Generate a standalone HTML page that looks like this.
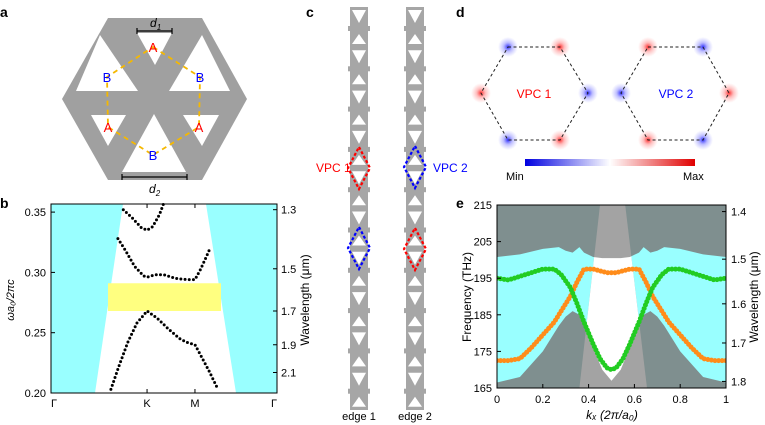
<!DOCTYPE html>
<html><head><meta charset="utf-8"><style>
html,body{margin:0;padding:0;background:#fff;}
svg{display:block;font-family:"Liberation Sans",sans-serif;}
</style></head><body>
<svg width="765" height="425" viewBox="0 0 765 425" xmlns="http://www.w3.org/2000/svg">
<defs>
<radialGradient id="gr"><stop offset="0" stop-color="#ff2020" stop-opacity="0.95"/><stop offset="0.45" stop-color="#ff6060" stop-opacity="0.4"/><stop offset="1" stop-color="#ff8080" stop-opacity="0"/></radialGradient>
<radialGradient id="gb"><stop offset="0" stop-color="#2020ff" stop-opacity="0.95"/><stop offset="0.45" stop-color="#6060ff" stop-opacity="0.4"/><stop offset="1" stop-color="#8080ff" stop-opacity="0"/></radialGradient>
<linearGradient id="cbar"><stop offset="0" stop-color="#0000e0"/><stop offset="0.5" stop-color="#ffffff"/><stop offset="1" stop-color="#e00000"/></linearGradient>
<clipPath id="wedgeClip"><polygon id="wedgePoly" points="0,0"/></clipPath>
<clipPath id="eClip"><rect x="497" y="205" width="229" height="183"/></clipPath>
</defs>

<text x="0" y="17" font-size="14" font-weight="bold">a</text>
<text x="0" y="208" font-size="14" font-weight="bold">b</text>
<text x="306" y="17" font-size="14" font-weight="bold">c</text>
<text x="456" y="17" font-size="14" font-weight="bold">d</text>
<text x="456" y="208" font-size="14" font-weight="bold">e</text>

<g>
<polygon points="108,18 202,18 247,99 202,180 108,180 62,99" fill="#a0a0a0"/>
<polygon points="137,33 172,33 155,65" fill="#fff"/>
<polygon points="76,91 138,91 100,35" fill="#fff"/>
<polygon points="169,91 230,91 202,35" fill="#fff"/>
<polygon points="91,115 126,115 108,146" fill="#fff"/>
<polygon points="183,115 219,115 202,146" fill="#fff"/>
<polygon points="122,172 186,172 154,114" fill="#fff"/>
<polygon points="153,47 200,77 199,127 153,155 108,127 107,77" fill="none" stroke="#f5b800" stroke-width="1.8" stroke-dasharray="5,4"/>
<g font-size="13" text-anchor="middle">
<text x="153" y="52" fill="#ff0000">A</text>
<text x="200" y="82" fill="#0000ff">B</text>
<text x="199" y="132" fill="#ff0000">A</text>
<text x="153" y="160" fill="#0000ff">B</text>
<text x="108" y="132" fill="#ff0000">A</text>
<text x="107" y="82" fill="#0000ff">B</text>
</g>
<g stroke="#000" stroke-width="1.2">
<line x1="137" y1="31" x2="172" y2="31"/><line x1="137" y1="28" x2="137" y2="34"/><line x1="172" y1="28" x2="172" y2="34"/>
</g>
<text x="150" y="27" font-size="12" font-style="italic">d<tspan font-size="8" dy="3">1</tspan></text>
<g stroke="#000" stroke-width="1.2">
<line x1="122" y1="177" x2="187" y2="177"/><line x1="122" y1="174" x2="122" y2="180"/><line x1="187" y1="174" x2="187" y2="180"/>
</g>
<text x="149" y="193" font-size="12" font-style="italic">d<tspan font-size="8" dy="3">2</tspan></text>
</g>

<g id="panelB"></g>
<g id="panelC"></g>
<g id="panelD">
<rect x="525" y="159" width="170" height="7" fill="url(#cbar)"/>
<text x="506" y="180" font-size="11">Min</text>
<text x="683" y="180" font-size="11">Max</text>
<text x="534" y="98" font-size="12" fill="#ff0000" text-anchor="middle">VPC 1</text>
<text x="676" y="98" font-size="12" fill="#0000ff" text-anchor="middle">VPC 2</text>
</g>
<g id="panelE"></g>

<script>
var NS="http://www.w3.org/2000/svg";
function mk(tag,attrs,parent){var e=document.createElementNS(NS,tag);for(var k in attrs)e.setAttribute(k,attrs[k]);parent.appendChild(e);return e;}

var bTicksY=[0.20,0.25,0.30,0.35];
var bTicksYLabels=["0.20","0.25","0.30","0.35"];
var bWaveTicks=[1.3,1.5,1.7,1.9,2.1];
var bWaveY=[0.352,0.303,0.268,0.240,0.217];
var bXTicks=[0,0.425,0.637,1];
var bXLabels=["Γ","K","M","Γ"];
var band1K=[0.265,0.30,0.34,0.38,0.425,0.47,0.52,0.57,0.60,0.637,0.66,0.70,0.739];
var band1F=[0.203,0.222,0.242,0.258,0.268,0.262,0.253,0.245,0.242,0.240,0.232,0.218,0.203];
var band2K=[0.296,0.33,0.37,0.41,0.425,0.46,0.50,0.55,0.60,0.637,0.66,0.685,0.704];
var band2F=[0.328,0.318,0.305,0.297,0.296,0.298,0.298,0.295,0.294,0.294,0.302,0.312,0.320];
var band3K=[0.32,0.36,0.40,0.425,0.45,0.48,0.50];
var band3F=[0.352,0.345,0.337,0.335,0.338,0.348,0.358];
var bGapLow=[0.268], bGapHigh=[0.291];

var bx=function(k){return 51+k*226;};
var by=function(f){return 393-(f-0.20)/0.05*60.3;};
(function(){
 var g=document.getElementById('panelB');
 var yTop=204,yBot=393;
 var c1=mk('polygon',{points:"51,"+yTop+" 123,"+yTop+" 95,"+yBot+" 51,"+yBot,fill:"#99ffff"},g);
 
 
 var c2=mk('polygon',{points:"206,"+yTop+" 277,"+yTop+" 277,"+yBot+" 236,"+yBot,fill:"#99ffff"},g);
 
 
 var gap=mk('rect',{x:108,y:by(bGapHigh[0]),width:113,height:by(bGapLow[0])-by(bGapHigh[0]),fill:"#ffff80"},g);
 
 
 var bands=[[band1K,band1F],[band2K,band2F],[band3K,band3F]];
 bands.forEach(function(b,i){
  var d=b[0].map(function(k,j){return (j?"L":"M")+bx(k).toFixed(1)+","+by(b[1][j]).toFixed(1);}).join(" ");
  var p=mk('path',{d:d,fill:"none",stroke:"#000","stroke-width":3,"stroke-linecap":"round","stroke-dasharray":"0 4.2"},g);
  
  
 });
 var fr=mk('rect',{x:51,y:yTop,width:226,height:yBot-yTop,fill:"none",stroke:"#000","stroke-width":1},g);
 
 
 bTicksY.forEach(function(v,i){
  mk('line',{x1:51,x2:55,y1:by(v),y2:by(v),stroke:"#000"},g);
  var t=mk('text',{x:46,y:by(v)+4,"font-size":11,"text-anchor":"end"},g);t.textContent=bTicksYLabels[i];
  
  
 });
 bWaveTicks.forEach(function(v,i){
  var y=by(bWaveY[i]);
  mk('line',{x1:273,x2:277,y1:y,y2:y,stroke:"#000"},g);
  var t=mk('text',{x:281,y:y+4,"font-size":11},g);t.textContent=v.toFixed(1);
  
  
 });
 bXTicks.forEach(function(k,i){
  mk('line',{x1:bx(k),x2:bx(k),y1:yBot,y2:yBot-4,stroke:"#000"},g);
  mk('line',{x1:bx(k),x2:bx(k),y1:yTop,y2:yTop+4,stroke:"#000"},g);
  var t=mk('text',{x:bx(k)+(i==0?3:(i==3?-3:0)),y:yBot+14,"font-size":11,"text-anchor":"middle"},g);t.textContent=bXLabels[i];
  
  
 });
 var yl=mk('text',{x:14,y:300,"font-size":11,"font-style":"italic","text-anchor":"middle",transform:"rotate(-90 14 300)"},g);
 yl.textContent="ωa₀/2πc";
 
 
 var yr=mk('text',{x:309,y:300,"font-size":12,"text-anchor":"middle",transform:"rotate(-90 309 300)"},g);
 yr.textContent="Wavelength (μm)";
 
 
})();

(function(){
 var g=document.getElementById('panelC');
 [359,415].forEach(function(cx,s){
  var sg=mk('g',{},g);
  
  
  mk('rect',{x:cx-9,y:7,width:18,height:403,fill:"#a6a6a6"},sg);
  for(var i=0;i<10;i++){
   var y0=7+i*40.3;
   mk('rect',{x:cx-11,y:y0+19,width:22,height:5,fill:"#a6a6a6"},sg);
   mk('polygon',{points:(cx-7)+","+(y0+3)+" "+(cx+7)+","+(y0+3)+" "+cx+","+(y0+16),fill:"#fff"},sg);
   mk('polygon',{points:(cx-7)+","+(y0+37)+" "+(cx+7)+","+(y0+37)+" "+cx+","+(y0+27),fill:"#fff"},sg);
  }
 });
 var dia=[[359,168,"#ff0000"],[359,248,"#0000ff"],[415,167,"#0000ff"],[415,249,"#ff0000"]];
 dia.forEach(function(d,i){
  var p=mk('polygon',{points:d[0]+","+(d[1]-21)+" "+(d[0]+11)+","+d[1]+" "+d[0]+","+(d[1]+21)+" "+(d[0]-11)+","+d[1],fill:"none",stroke:d[2],"stroke-width":2.2,"stroke-dasharray":"3,2"},g);
  
  
 });
 var t1=mk('text',{x:316,y:172,"font-size":12,fill:"#ff0000"},g);t1.textContent="VPC 1";
 
 
 var t2=mk('text',{x:433,y:172,"font-size":12,fill:"#0000ff"},g);t2.textContent="VPC 2";
 
 
 var e1=mk('text',{x:359,y:420,"font-size":11,"text-anchor":"middle"},g);e1.textContent="edge 1";
 
 
 var e2=mk('text',{x:415,y:420,"font-size":11,"text-anchor":"middle"},g);e2.textContent="edge 2";
 
 
})();

(function(){
 var g=document.getElementById('panelD');
 var hexes=[{pts:[[508,47],[560,47],[588,93],[560,140],[508,140],[481,93]],col:["b","r","b","r","b","r"]},
            {pts:[[648,47],[703,47],[729,93],[703,140],[648,140],[621,93]],col:["r","b","r","b","r","b"]}];
 hexes.forEach(function(h,hi){
  h.pts.forEach(function(p,i){
   var c=mk('circle',{cx:p[0],cy:p[1],r:10,fill:h.col[i]=="r"?"url(#gr)":"url(#gb)"},g);
   
   
  });
  var pl=mk('polygon',{points:h.pts.map(function(p){return p.join(",");}).join(" "),fill:"none",stroke:"#222","stroke-width":1,"stroke-dasharray":"3,2.5"},g);
  
  
 });
})();

var eK=[0,0.05,0.1,0.15,0.2,0.25,0.28,0.32,0.35,0.38,0.42,0.45,0.48,0.5,0.52,0.55,0.58,0.62,0.65,0.68,0.72,0.75,0.8,0.85,0.9,0.95,1];
var greenF=[195,194.5,195.5,196.5,197.5,197.5,196,192.5,188,183,177,173,170.5,170,170.5,173,177,183,188,192.5,196,197.5,197.5,196.5,195.5,194.5,195];
var orangeF=[172.5,172.5,173,176,179.5,183,186,190,194,197.5,197.5,197,196.5,196.5,196.5,197,197.5,197.5,194,190,186,183,179.5,176,173,172.5,172.5];
var bandK=[0,0.1,0.2,0.27,0.3,0.33,0.36,0.38,0.42,0.46,0.5,0.54,0.58,0.62,0.64,0.67,0.7,0.73,0.8,0.9,1];
var bandUpper=[200.8,201.5,203,203.5,202.5,202,203.5,202,200.8,200.5,200.5,200.5,200.8,202,203.5,202,202.5,203.5,203,201.5,200.8];
var bandLower=[166.5,168,175,182,184.5,186,185,183,176,170,167,170,176,183,185,186,184.5,182,175,168,166.5];
var wedgeK=[0.45,0.56,0.655,0.36];
var wedgeF=[215,215,165,165];
var eYTicks=[165,175,185,195,205,215];
var eXTicks=[0,0.2,0.4,0.6,0.8,1];
var eXLabels=["0","0.2","0.4","0.6","0.8","1"];
var eWaveTicks=["1.4","1.5","1.6","1.7","1.8"];
var eWaveF=[213.2,200.2,188,177.3,166.8];

var ex=function(k){return 497+k*229;};
var ey=function(f){return 388-(f-165)/50*183;};
(function(){
 var g=document.getElementById('panelE');
 var bg=mk('rect',{x:497,y:205,width:229,height:183,fill:"#7f8f8f"},g);
 
 
 var bandPts=bandK.map(function(k,i){return ex(k).toFixed(1)+","+ey(bandUpper[i]).toFixed(1);}).concat(
   bandK.slice().reverse().map(function(k,i){var j=bandK.length-1-i;return ex(k).toFixed(1)+","+ey(bandLower[j]).toFixed(1);})).join(" ");
 var bandPoly=mk('polygon',{points:bandPts,fill:"#99ffff"},g);
 
 
 var wpts=wedgeK.map(function(k,i){return ex(k).toFixed(1)+","+ey(wedgeF[i]).toFixed(1);}).join(" ");
 var wedge=mk('polygon',{points:wpts,fill:"#a3a3a3"},g);
 
 
 document.getElementById('wedgePoly').setAttribute('points',wpts);
 var wb=mk('polygon',{points:bandPts,fill:"#ffffff","clip-path":"url(#wedgeClip)"},g);
 
 
 [[orangeF,"#ff8c1a","orange-edge-band"],[greenF,"#22cc22","green-edge-band"]].forEach(function(s){
  var d=eK.map(function(k,i){return (i?"L":"M")+ex(k).toFixed(1)+","+ey(s[0][i]).toFixed(1);}).join(" ");
  var p=mk('path',{d:d,fill:"none",stroke:s[1],"stroke-width":5,"stroke-linecap":"round","stroke-dasharray":"0 3.6","clip-path":"url(#eClip)"},g);
  
  
 });
 var fr=mk('rect',{x:497,y:205,width:229,height:183,fill:"none",stroke:"#000","stroke-width":1},g);
 
 
 eYTicks.forEach(function(v){
  mk('line',{x1:497,x2:501,y1:ey(v),y2:ey(v),stroke:"#000"},g);
  var t=mk('text',{x:492,y:ey(v)+4,"font-size":11,"text-anchor":"end"},g);t.textContent=v;
  
  
 });
 eXTicks.forEach(function(k,i){
  mk('line',{x1:ex(k),x2:ex(k),y1:388,y2:384,stroke:"#000"},g);
  var t=mk('text',{x:ex(k),y:403,"font-size":11,"text-anchor":"middle"},g);t.textContent=eXLabels[i];
  
  
 });
 eWaveTicks.forEach(function(l,i){
  var y=ey(eWaveF[i]);
  mk('line',{x1:722,x2:726,y1:y,y2:y,stroke:"#000"},g);
  var t=mk('text',{x:731,y:y+4,"font-size":11},g);t.textContent=l;
  
  
 });
 var xl=mk('text',{x:612,y:419,"font-size":12,"text-anchor":"middle","font-style":"italic"},g);
 xl.textContent="kₓ (2π/a₀)";
 
 
 var yl=mk('text',{x:471,y:297,"font-size":12,"text-anchor":"middle",transform:"rotate(-90 471 297)"},g);
 yl.textContent="Frequency (THz)";
 
 
 var yr=mk('text',{x:758,y:297,"font-size":12,"text-anchor":"middle",transform:"rotate(-90 758 297)"},g);
 yr.textContent="Wavelength (μm)";
 
 
})();
</script>
</svg>
</body></html>
